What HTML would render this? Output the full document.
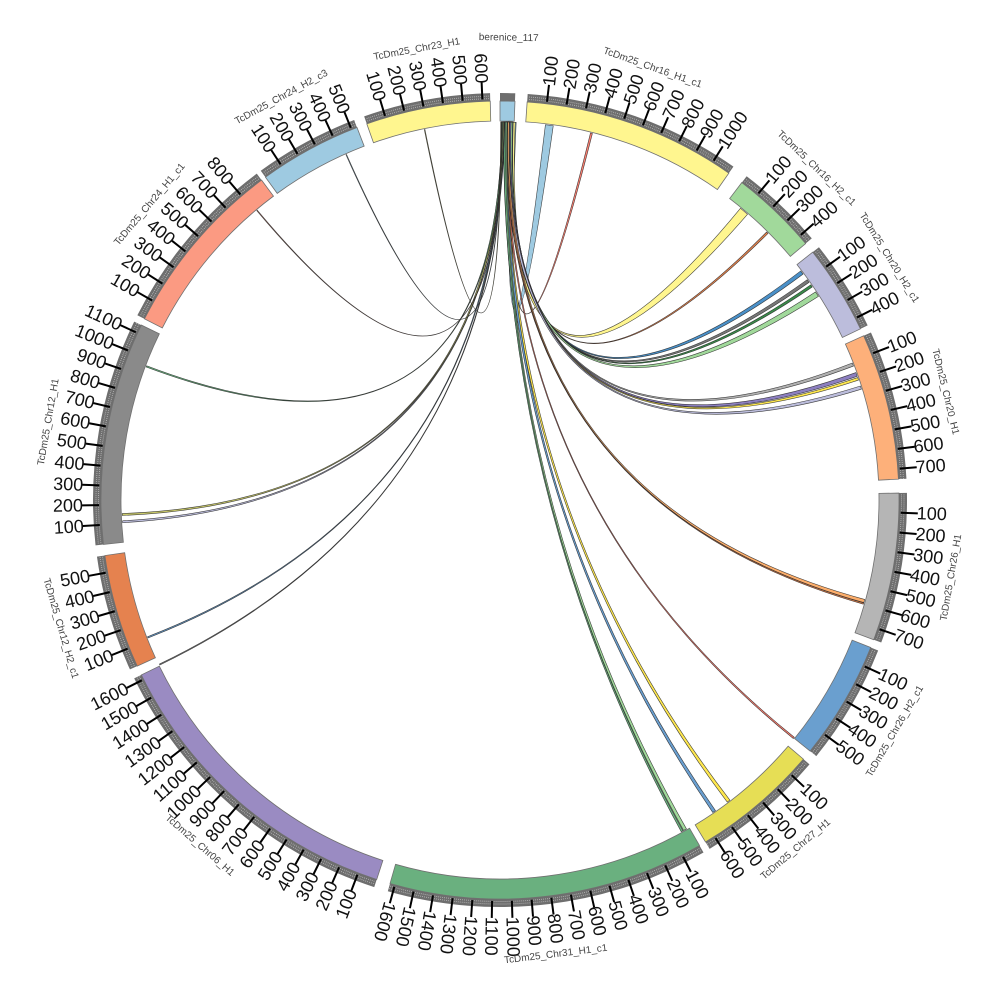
<!DOCTYPE html>
<html><head><meta charset="utf-8">
<style>
html,body{margin:0;padding:0;background:#fff;}
svg{display:block;}
text{font-family:"Liberation Sans","DejaVu Sans",sans-serif;}
</style></head>
<body>
<svg id="c" width="1000" height="1000" viewBox="0 0 1000 1000" xmlns="http://www.w3.org/2000/svg"></svg>
<script>
var S=document.getElementById('c');
var CX=500,CY=500,RI=379,RO=399,RG=406;
var K=0.0283;
function P(r,a){var t=a*Math.PI/180;return [CX+r*Math.sin(t),CY-r*Math.cos(t)];}
function f(p){return p[0].toFixed(2)+','+p[1].toFixed(2);}
var out=[];
var segs=[
['berenice_117',0,2.15,'#9ecae1',0,0],
['TcDm25_Chr16_H1_c1',3.9,35,'#fff68f',1,1000],
['TcDm25_Chr16_H2_c1',37.3,50,'#a1d99b',1,400],
['TcDm25_Chr20_H2_c1',51.6,64.6,'#bcbddc',1,400],
['TcDm25_Chr20_H1',65.7,87,'#fdb07a',1,700],
['TcDm25_Chr26_H1',89,110.5,'#b5b5b5',1,700],
['TcDm25_Chr26_H2_c1',111.7,129,'#6a9fcf',1,500],
['TcDm25_Chr27_H1',130.5,149,'#e6de55',1,600],
['TcDm25_Chr31_H1_c1',150,196,'#6ab07f',1,1600],
['TcDm25_Chr06_H1',198,244,'#9a8bc2',1,1600],
['TcDm25_Chr12_H2_c1',245.4,262,'#e5824f',1,500],
['TcDm25_Chr12_H1',263.6,296,'#8a8a8a',1,1100],
['TcDm25_Chr24_H1_c1',297,323.3,'#fb9a82',1,800],
['TcDm25_Chr24_H2_c3',324,339,'#9ecae1',1,500],
['TcDm25_Chr23_H1',340.5,358.6,'#fff68f',1,600]
];
function band(r1,r2,a1,a2,fill,stroke){
  var l=(a2-a1)>180?1:0;
  return '<path d="M'+f(P(r1,a1))+' A'+r1+','+r1+' 0 '+l+' 1 '+f(P(r1,a2))+' L'+f(P(r2,a2))+' A'+r2+','+r2+' 0 '+l+' 0 '+f(P(r2,a1))+' Z" fill="'+fill+'"'+(stroke?' stroke="'+stroke+'" stroke-width="0.8"':'')+'/>';
}
var links=[
[7.5,1.2,'#9ecae1'],[14,0.3,'#fb8072'],[40.2,1.4,'#fff68f'],[45,0.3,'#e6844f'],
[53,0.6,'#4a90c8'],[54.6,0.5,'#777777'],[55.5,0.4,'#3a8a4a'],[57,0.8,'#a1d99b'],
[69,0.5,'#b0b0b0'],[70.6,0.6,'#8c7fc0'],[71.3,0.4,'#ffe84f'],[72.7,0.5,'#bcbddc'],
[105.5,0.5,'#fdae6b'],[105.9,0.2,'#e6844f'],[129,0.25,'#fb8072'],
[142.8,0.5,'#ffe84f'],[145.5,0.5,'#6a9fd0'],[150.7,0.5,'#a1d99b'],[151.2,0.3,'#6ab07f'],
[244.2,0.15,'#888'],[248.7,0.2,'#6a9fd0'],[266.7,0.3,'#bcbddc'],[267.8,0.3,'#c8c86a'],
[290.7,0.2,'#6ab07f'],[320,0.1,'#fb9a82'],[336,0.1,'#9ecae1'],[348.5,0.1,'#fff68f']
];
var n=links.length;
links.forEach(function(L,i){
  var sc=0.15+1.85*(n-1-i)/(n-1);
  var w=L[1];
  var s1=sc-Math.min(w,0.9)/2,s2=sc+Math.min(w,0.9)/2;
  var t1=L[0]-w/2,t2=L[0]+w/2;
  var r=RI-1;
  var C=CX+','+CY;
  var d='M'+f(P(r,s1))+' A'+r+','+r+' 0 0 1 '+f(P(r,s2))+' Q'+C+' '+f(P(r,t1))+' A'+r+','+r+' 0 0 1 '+f(P(r,t2))+' Q'+C+' '+f(P(r,s1))+' Z';
  out.push('<path d="'+d+'" fill="'+L[2]+'" stroke="#222" stroke-width="0.6" stroke-opacity="0.85"/>');
});
segs.forEach(function(s){
  var a1=s[1],a2=s[2];
  out.push(band(RO,RG+1,a1,a2,'#6e6e6e'));
  out.push(band(RI,RO,a1,a2,s[3],'#707070'));
  if(s[4]){
    var len=(a2-a1)/K;
    for(var u=10;u<len;u+=10){
      var a=a1+u*K;
      if(u%100==0 && u<=s[5]){
        out.push('<line x1="'+f(P(RO+2,a)).replace(',','" y1="')+'" x2="'+f(P(RG+12,a)).replace(',','" y2="')+'" stroke="#000" stroke-width="2"/>');
        var p=P(417,a);var flip=(a>197&&a<360);
        var rot=flip?a+90:a-90;
        out.push('<text x="'+p[0].toFixed(1)+'" y="'+p[1].toFixed(1)+'" font-size="18" fill="#111" text-anchor="'+(flip?'end':'start')+'" dominant-baseline="central" transform="rotate('+rot.toFixed(1)+' '+p[0].toFixed(1)+' '+p[1].toFixed(1)+')">'+u+'</text>');
      } else {
        out.push('<line x1="'+f(P(RO+2,a)).replace(',','" y1="')+'" x2="'+f(P(RG-1,a)).replace(',','" y2="')+'" stroke="#fff" stroke-width="0.6" stroke-opacity="0.7" stroke-dasharray="1 1.5"/>');
      }
    }
  }
  var m=(a1+a2)/2;
  var rr=s[4]?458:462;
  var p=P(rr,m);
  var rot=(m>90&&m<270)?m-180:m;
  out.push('<text x="'+p[0].toFixed(1)+'" y="'+p[1].toFixed(1)+'" font-size="10" fill="#444" text-anchor="middle" dominant-baseline="central" transform="rotate('+rot.toFixed(1)+' '+p[0].toFixed(1)+' '+p[1].toFixed(1)+')">'+s[0]+'</text>');
});
S.innerHTML=out.join('');
</script>
</body></html>
